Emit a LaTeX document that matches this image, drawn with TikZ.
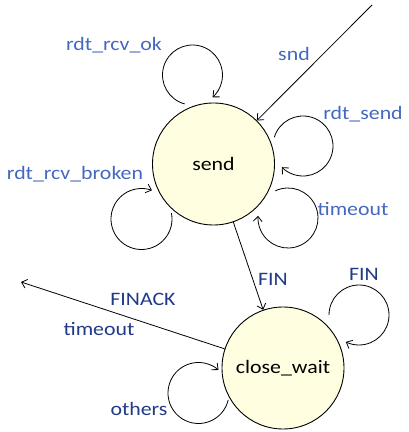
\documentclass[tikz,border=0pt]{standalone}
\usepackage{fontspec}
\setmainfont[FakeStretch=1.15]{Carlito}
\usetikzlibrary{arrows.meta,calc}
\definecolor{statefill}{RGB}{255,254,224}
\definecolor{lblue}{RGB}{68,104,192}
\definecolor{dblue}{RGB}{32,58,136}
\begin{document}
\begin{tikzpicture}[x=1pt,y=1pt,
  >={Straight Barb[length=5pt,width=9pt]},
  state/.style={circle,draw=black,line width=0.9pt,fill=statefill,minimum size=122pt,inner sep=0pt,font=\fontsize{19}{22}\selectfont},
  conn/.style={->,line width=0.8pt},
  toplbl/.style={text=lblue,font=\fontsize{19}{22}\selectfont,inner sep=0pt},
  botlbl/.style={text=dblue,font=\fontsize{19}{22}\selectfont,inner sep=0pt}]
\useasboundingbox (0,0) rectangle (409,432);
\node[state] (send) at (213.5,268) {send};
\node[state] (close) at (283,64) {close\_wait};
% free ends
\coordinate (sndStart) at (372,427);
\coordinate (finackEnd) at (21,150);
% loop centres
\coordinate (okC) at (192.5,357);
\coordinate (sendC) at (303,286);
\coordinate (toC) at (288,214);
\coordinate (brC) at (141.5,213);
\coordinate (finC) at (359,117);
\coordinate (othC) at (198.5,39);
% straight connectors
\draw[conn] (sndStart) -- (send);
\draw[conn] (send) -- (close);
\draw[conn] (close) -- (finackEnd);
% self loops
\draw[conn] ($(okC)+(255:30)$) arc[start angle=255,end angle=-48,radius=30];
\draw[conn] ($(sendC)+(163:30)$) arc[start angle=163,end angle=-135,radius=30];
\draw[conn] ($(toC)+(115:30)$) arc[start angle=115,end angle=-184,radius=30];
\draw[conn] ($(brC)+(11:30.5)$) arc[start angle=11,end angle=-290,radius=30.5];
\draw[conn] ($(finC)+(180:30)$) arc[start angle=180,end angle=-116,radius=30];
\draw[conn] ($(othC)+(-13:30.5)$) arc[start angle=-13,end angle=-311,radius=30.5];
% labels
\node[toplbl] (lok) at (114,387) {rdt\_rcv\_ok};
\node[toplbl] (lsnd) at (294,378) {snd};
\node[toplbl] (lrs) at (363,318) {rdt\_send};
\node[toplbl] (lbr) at (75,258) {rdt\_rcv\_broken};
\node[toplbl] (lto) at (353,223) {timeout};
\node[botlbl] (lfin) at (273,153) {FIN};
\node[botlbl] (lfin2) at (364,158) {FIN};
\node[botlbl] (lfa) at (143,133) {FINACK};
\node[botlbl] (lto2) at (99,103) {timeout};
\node[botlbl] (loth) at (139,23) {others};
\end{tikzpicture}
\end{document}
